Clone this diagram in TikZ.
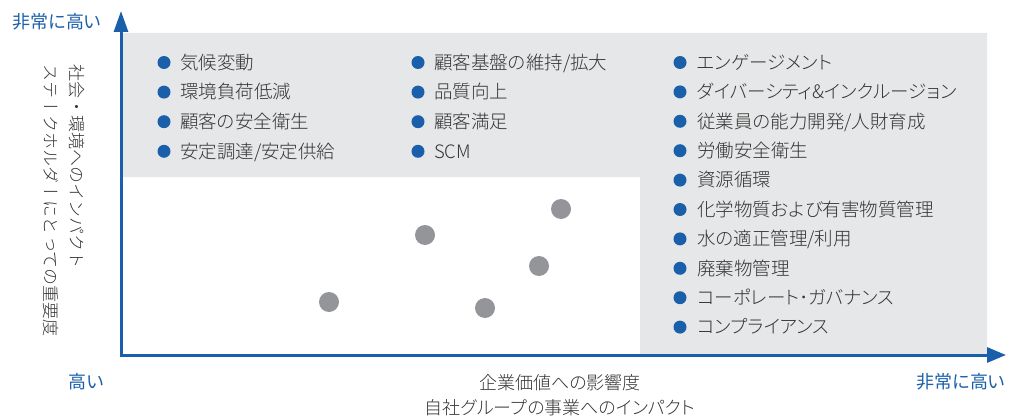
\documentclass[tikz,border=0pt]{standalone}
\usepackage{fontspec}
\setmainfont{Noto Sans CJK JP Light}[RawFeature=+palt]
\newfontfamily\vfont{Noto Sans CJK JP Light}[Vertical=RotatedGlyphs]
\newfontfamily\rfont{Noto Sans CJK JP}[RawFeature=+palt]
\usetikzlibrary{arrows.meta}
\definecolor{axblue}{HTML}{1A5FA9}
\definecolor{panel}{HTML}{E6E7E8}
\definecolor{dotgray}{HTML}{939598}
\definecolor{txt}{HTML}{333333}
\tikzset{
  axisline/.style={draw=axblue, line width=3pt, {Triangle[length=21pt,width=14pt]}-{Triangle[length=19pt,width=15pt]}},
  bul/.style={circle, fill=axblue, minimum size=13pt, inner sep=0pt},
  itm/.style={anchor=base west, inner sep=0pt, text=txt, font=\fontsize{18.5pt}{20pt}\selectfont},
  dotn/.style={circle, fill=dotgray, minimum size=20pt, inner sep=0pt},
  blab/.style={anchor=base, inner sep=0pt, text=axblue, font=\rfont\fontsize{18pt}{20pt}\selectfont},
  glab/.style={anchor=base, inner sep=0pt, text=txt, font=\fontsize{18pt}{20pt}\selectfont},
  vlab/.style={inner sep=0pt, rotate=-90, anchor=west, text=txt, font=\vfont\fontsize{17pt}{20pt}\selectfont},
}
\begin{document}
\begin{tikzpicture}[x=1pt,y=-1pt]
\useasboundingbox (0,0) rectangle (1009,417);
% panel
\fill[panel] (121,33) -- (987,33) -- (987,355) -- (640,355) -- (640,177) -- (121,177) -- cycle;
% axes
\coordinate (Ytop) at (121,11);
\coordinate (O) at (121,355);
\coordinate (Xend) at (1006,355);
\draw[axisline] (Ytop) -- (O) -- (Xend);
% axis labels
\node[blab] (yhigh) at (57,28.5) {非常に高い};
\node[blab] (xlow) at (86,388.5) {高い};
\node[blab] (xhigh) at (961,388.5) {非常に高い};
\node[glab] (xt1) at (560,389.5) {企業価値への影響度};
\node[glab] (xt2) at (560,414) {自社グループの事業へのインパクト};
\node[vlab] (yt1) at (77,64) {社会・環境へのインパクト};
\node[vlab] (yt2) at (51,64) {ステークホルダーにとっての重要度};
% column 1
\foreach \t [count=\i] in {気候変動,環境負荷低減,顧客の安全衛生,安定調達/安定供給}{
  \node[bul] (ba\i) at (164,{62.5+29.6*(\i-1)}) {};
  \node[itm] (ta\i) at (180,{69.3+29.6*(\i-1)}) {\t};
}
% column 2
\foreach \t [count=\i] in {顧客基盤の維持/拡大,品質向上,顧客満足,SCM}{
  \node[bul] (bb\i) at (418,{62.5+29.6*(\i-1)}) {};
  \node[itm] (tb\i) at (434,{69.3+29.6*(\i-1)}) {\t};
}
% column 3
\foreach \t [count=\i] in {エンゲージメント,ダイバーシティ\&インクルージョン,従業員の能力開発/人財育成,労働安全衛生,資源循環,化学物質および有害物質管理,水の適正管理/利用,廃棄物管理,コーポレート･ガバナンス,コンプライアンス}{
  \node[bul] (bc\i) at (680,{62.5+29.4*(\i-1)}) {};
  \node[itm] (tc\i) at (697,{69.3+29.4*(\i-1)}) {\t};
}
% dots
\node[dotn] (d1) at (329,302) {};
\node[dotn] (d2) at (425,235) {};
\node[dotn] (d3) at (561,209) {};
\node[dotn] (d4) at (539,266) {};
\node[dotn] (d5) at (485,308) {};
\end{tikzpicture}
\end{document}
